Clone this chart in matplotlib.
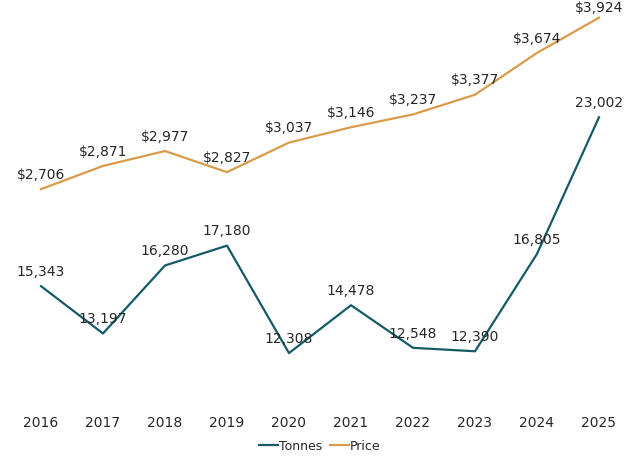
import matplotlib
matplotlib.use('Agg')
import matplotlib.pyplot as plt

years = ['2016', '2017', '2018', '2019', '2020', '2021', '2022', '2023', '2024', '2025']
tonnes = [15343, 13197, 16280, 17180, 12308, 14478, 12548, 12390, 16805, 23002]
price = [2706, 2871, 2977, 2827, 3037, 3146, 3237, 3377, 3674, 3924]

teal = '#145b67'
gold = '#d99b4a'
text_color = '#262626'

fig = plt.figure(figsize=(6.4, 4.64), dpi=100)
# axes box in pixels: left 10, right 630, top 8, bottom 405
ax1 = fig.add_axes([10 / 640, (464 - 405) / 464, 620 / 640, 397 / 464])
ax2 = ax1.twinx()

x = list(range(len(years)))
l1, = ax1.plot(x, tonnes, color=teal, linewidth=1.6, label='Tonnes')
l2, = ax2.plot(x, price, color=gold, linewidth=1.6, label='Price')

ax1.set_ylim(10000, 28000)
ax2.set_ylim(1180, 4000)
ax1.set_xlim(-0.5, len(years) - 0.5)

for xi, v in zip(x, tonnes):
    ax1.annotate(f'{v:,}', (xi, v), xytext=(0, 11), textcoords='offset points',
                 ha='center', va='center', fontsize=10, color=text_color)
for i, (xi, v) in enumerate(zip(x, price)):
    off = 7.5 if i == len(price) - 1 else 11
    ax2.annotate(f'${v:,}', (xi, v), xytext=(0, off), textcoords='offset points',
                 ha='center', va='center', fontsize=10, color=text_color)

ax1.set_xticks(x)
ax1.set_xticklabels(years, fontsize=10, color=text_color)
ax1.tick_params(axis='x', length=0, pad=8)
ax1.set_yticks([])
ax2.set_yticks([])
for ax in (ax1, ax2):
    for s in ax.spines.values():
        s.set_visible(False)

fig.legend(handles=[l1, l2], loc='center', bbox_to_anchor=(0.5, 1 - 447 / 464),
           ncol=2, frameon=False, fontsize=9, handlelength=1.5, handletextpad=0.1,
           columnspacing=0.6, labelcolor=text_color)

fig.savefig('out.png', dpi=100)
